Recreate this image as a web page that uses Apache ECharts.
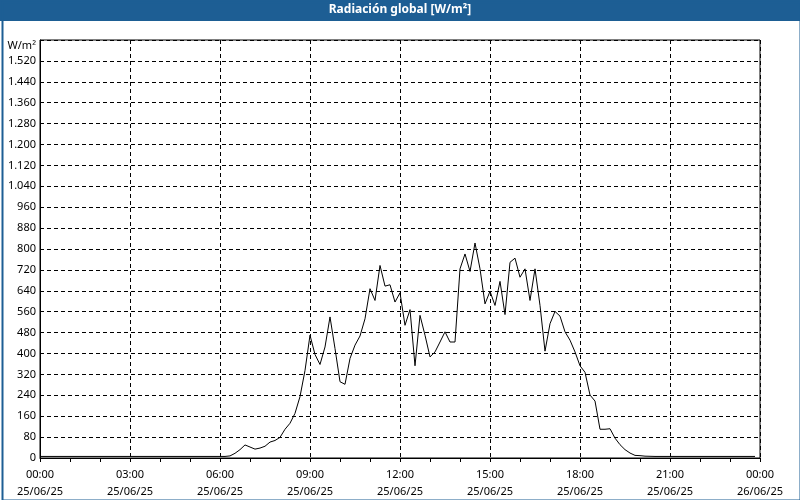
<!DOCTYPE html>
<html>
<head>
<meta charset="utf-8">
<script src="https://cdn.jsdelivr.net/npm/echarts@6/dist/echarts.min.js"></script>
<style>
  html, body { margin: 0; padding: 0; background: #fff; }
  #chart { width: 800px; height: 500px; }
</style>
</head>
<body>
<div id="chart"></div>
<script>
// datos de radiación global (10 minutos), día 25/06/25
var times = [
  '00:00','01:00','02:00','03:00','04:00','05:00','06:00','06:10',
  '06:20','06:30','06:40','06:50','07:00','07:10','07:20','07:30','07:40','07:50',
  '08:00','08:10','08:20','08:30','08:40','08:50','09:00','09:10','09:20','09:30',
  '09:40','09:50','10:00','10:10','10:20','10:30','10:40','10:50','11:00','11:10',
  '11:20','11:30','11:40','11:50','12:00','12:10','12:20','12:30','12:40','12:50',
  '13:00','13:10','13:20','13:30','13:40','13:50','14:00','14:10','14:20','14:30',
  '14:40','14:50','15:00','15:10','15:20','15:30','15:40','15:50','16:00','16:10',
  '16:20','16:30','16:40','16:50','17:00','17:10','17:20','17:30','17:40','17:50',
  '18:00','18:10','18:20','18:30','18:40','18:50','19:00','19:10','19:20','19:30',
  '19:40','19:50','20:00','20:10','20:30','21:00','22:00','23:00','23:50'
];
var values = [
  6, 6, 6, 6, 6, 6, 6, 6,
  8, 18, 32, 50, 42, 34, 38, 45, 61, 67,
  79, 110, 133, 171, 235, 335, 470, 396, 358, 425,
  540, 419, 292, 282, 381, 432, 467, 533, 648, 603,
  737, 658, 663, 597, 632, 508, 568, 353, 546, 470,
  387, 406, 444, 483, 444, 444, 724, 781, 714, 823,
  724, 590, 638, 584, 676, 549, 749, 765, 692, 724,
  603, 724, 584, 409, 514, 561, 543, 483, 451, 406,
  353, 328, 241, 218, 110, 110, 112, 76, 51, 32,
  19, 10, 9, 7, 6, 6, 6, 6, 6
];
var fechas = ['25/06/25', '26/06/25'];

function aMinutos(t) {
    var p = t.split(':');
    return Number(p[0]) * 60 + Number(p[1]);
}
var seriesData = times.map(function (t, i) {
    return [aMinutos(t), values[i]];
});

function miles(v) {
    return String(v).replace(/\B(?=(\d{3})+(?!\d))/g, '.');
}
function pad(n) { return (n < 10 ? '0' : '') + n; }

var myChart = echarts.init(document.getElementById('chart'));

var option = {
    backgroundColor: '#fff',
    animation: false,
    textStyle: { fontFamily: 'Noto Sans' },
    graphic: [
        {
            type: 'rect', left: 0, top: 0,
            shape: { width: 800, height: 21 },
            style: { fill: '#1d5e94' }
        },
        {
            type: 'rect', left: 0, top: 0,
            shape: { x: 1, y: 1, width: 798, height: 498 },
            style: { fill: 'none', stroke: '#1d5e94', lineWidth: 2 }
        },
        {
            type: 'text', left: 'center', top: 4,
            style: {
                text: 'Radiación global [W/m²]',
                fill: '#fff',
                font: 'bold 12px "Noto Sans"'
            }
        }
    ],
    grid: { left: 40, right: 40, top: 40, bottom: 40, show: true, borderColor: '#000', borderWidth: 1 },
    xAxis: {
        type: 'value',
        min: 0,
        max: 1440,
        interval: 180,
        axisLine: { lineStyle: { color: '#000', width: 1 } },
        axisTick: { show: true, length: 4, lineStyle: { color: '#000' } },
        minorTick: { show: true, splitNumber: 3, length: 4, lineStyle: { color: '#000' } },
        splitLine: { show: true, lineStyle: { color: '#000', type: [4, 3] } },
        axisLabel: {
            color: '#000',
            fontSize: 11,
            lineHeight: 17,
            margin: 8,
            showMinLabel: true,
            showMaxLabel: true,
            formatter: function (v) {
                var h = Math.floor(v / 60) % 24, m = v % 60;
                return pad(h) + ':' + pad(m) + '\n' + fechas[v >= 1440 ? 1 : 0];
            }
        }
    },
    yAxis: {
        type: 'value',
        min: 0,
        max: 1600,
        interval: 80,
        axisLine: { show: true, lineStyle: { color: '#000', width: 1 } },
        axisTick: { show: false },
        splitLine: { show: true, lineStyle: { color: '#000', type: [4, 3] } },
        axisLabel: {
            color: '#000',
            fontSize: 11,
            margin: 4,
            formatter: function (v) {
                return v === 1600 ? '{u|W/m²}' : miles(v);
            },
            rich: { u: { fontSize: 11, color: '#000', padding: [12, 0, 0, 0] } }
        }
    },
    series: [
        {
            name: 'Radiación global',
            type: 'line',
            data: seriesData,
            showSymbol: false,
            lineStyle: { color: '#000', width: 1 },
            itemStyle: { color: '#000' }
        }
    ]
};

myChart.setOption(option);
</script>
</body>
</html>
